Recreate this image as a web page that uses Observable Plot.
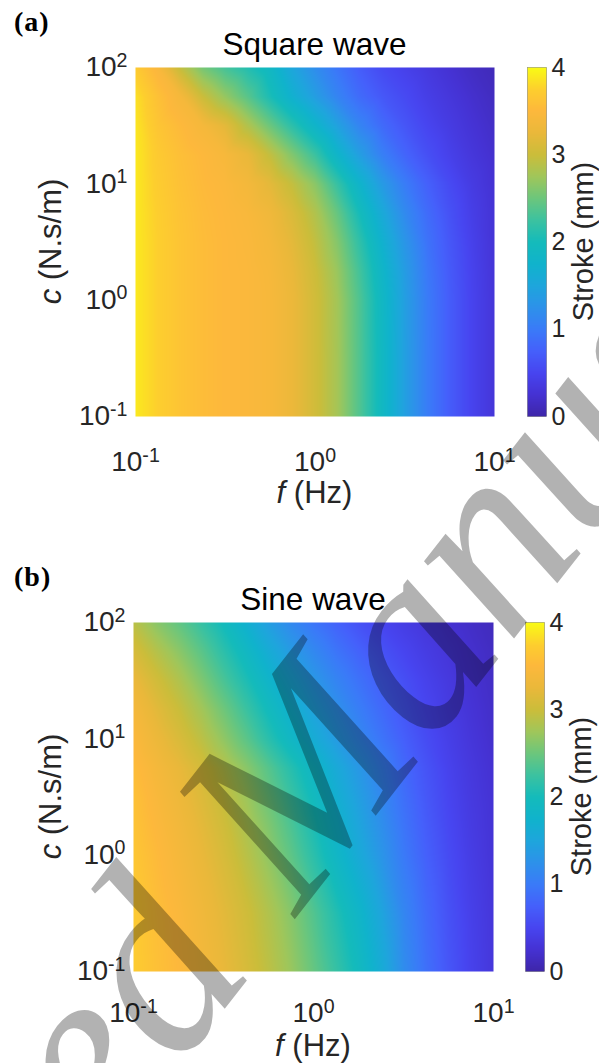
<!DOCTYPE html>
<html><head><meta charset="utf-8">
<script src="https://cdn.jsdelivr.net/npm/d3@7"></script>
<script src="https://cdn.jsdelivr.net/npm/@observablehq/plot@0.6"></script>
<style>
body{margin:0;background:#fff;}
#fig{position:relative;width:599px;height:1063px;overflow:hidden;}
#fig > svg{position:absolute;}
</style></head><body><div id="fig"></div>
<script>
// ---- data ----
const freqs = [0.1, 0.133, 0.178, 0.237, 0.316, 0.422, 0.562, 0.75, 1, 1.33, 1.78, 2.37, 3.16, 4.22, 5.62, 7.5, 10]; // f (Hz)
const dampings = [0.1, 0.316, 1, 1.78, 3.16, 5.62, 10, 17.8, 31.6, 56.2, 100];                                  // c (N.s/m)
// stroke (mm): one row per damping value (bottom to top), one column per frequency
const squareStroke = [
  [3.9, 3.75, 3.63, 3.55, 3.5, 3.47, 3.42, 3.28, 3.05, 2.78, 2.35, 1.9, 1.42, 1.02, 0.72, 0.48, 0.3],
  [3.9, 3.75, 3.63, 3.55, 3.5, 3.47, 3.42, 3.28, 3.05, 2.78, 2.35, 1.9, 1.42, 1.02, 0.72, 0.48, 0.3],
  [3.9, 3.75, 3.63, 3.55, 3.5, 3.47, 3.42, 3.28, 3.05, 2.77, 2.34, 1.88, 1.41, 1.01, 0.72, 0.48, 0.3],
  [3.9, 3.75, 3.63, 3.55, 3.5, 3.47, 3.41, 3.25, 3.02, 2.72, 2.28, 1.82, 1.38, 0.98, 0.7, 0.47, 0.29],
  [3.9, 3.75, 3.63, 3.55, 3.5, 3.46, 3.38, 3.2, 2.95, 2.62, 2.17, 1.72, 1.3, 0.93, 0.67, 0.45, 0.28],
  [3.9, 3.74, 3.62, 3.54, 3.49, 3.44, 3.33, 3.12, 2.85, 2.47, 2.0, 1.57, 1.17, 0.86, 0.62, 0.42, 0.27],
  [3.9, 3.72, 3.6, 3.52, 3.47, 3.38, 3.2, 2.95, 2.65, 2.22, 1.77, 1.36, 1.02, 0.76, 0.55, 0.38, 0.25],
  [3.9, 3.7, 3.58, 3.5, 3.42, 3.25, 2.95, 2.6, 2.25, 1.8, 1.4, 1.05, 0.8, 0.6, 0.45, 0.32, 0.22],
  [3.88, 3.65, 3.52, 3.4, 3.2, 2.85, 2.5, 2.15, 1.8, 1.45, 1.1, 0.85, 0.66, 0.5, 0.38, 0.27, 0.18],
  [3.85, 3.6, 3.4, 3.0, 2.7, 2.4, 2.05, 1.7, 1.4, 1.1, 0.85, 0.68, 0.55, 0.42, 0.32, 0.22, 0.14],
  [3.7, 3.45, 2.95, 2.55, 2.3, 2.1, 1.88, 1.5, 1.2, 0.95, 0.72, 0.55, 0.45, 0.35, 0.25, 0.16, 0.1]
];
const sineStroke = [
  [3.72, 3.6, 3.5, 3.38, 3.25, 3.1, 2.92, 2.72, 2.47, 2.22, 1.95, 1.62, 1.2, 0.9, 0.66, 0.46, 0.32],
  [3.7, 3.58, 3.47, 3.34, 3.2, 3.04, 2.85, 2.63, 2.37, 2.1, 1.82, 1.5, 1.13, 0.85, 0.62, 0.44, 0.31],
  [3.66, 3.53, 3.4, 3.26, 3.1, 2.9, 2.68, 2.43, 2.15, 1.86, 1.58, 1.3, 1.0, 0.76, 0.56, 0.4, 0.28],
  [3.63, 3.49, 3.36, 3.21, 3.04, 2.83, 2.6, 2.34, 2.06, 1.78, 1.5, 1.23, 0.95, 0.72, 0.53, 0.38, 0.27],
  [3.6, 3.45, 3.31, 3.15, 2.97, 2.75, 2.5, 2.24, 1.96, 1.68, 1.42, 1.16, 0.9, 0.68, 0.5, 0.36, 0.26],
  [3.55, 3.4, 3.25, 3.08, 2.88, 2.65, 2.39, 2.12, 1.85, 1.58, 1.33, 1.09, 0.84, 0.64, 0.47, 0.34, 0.24],
  [3.48, 3.3, 3.12, 2.92, 2.68, 2.42, 2.14, 1.87, 1.62, 1.38, 1.16, 0.95, 0.75, 0.57, 0.43, 0.31, 0.21],
  [3.4, 3.2, 3.0, 2.78, 2.52, 2.25, 1.97, 1.71, 1.47, 1.25, 1.04, 0.85, 0.67, 0.51, 0.38, 0.28, 0.19],
  [3.28, 3.06, 2.85, 2.6, 2.33, 2.07, 1.8, 1.55, 1.32, 1.11, 0.92, 0.75, 0.6, 0.46, 0.35, 0.25, 0.17],
  [3.1, 2.88, 2.66, 2.42, 2.16, 1.9, 1.62, 1.37, 1.15, 0.95, 0.78, 0.63, 0.5, 0.39, 0.3, 0.22, 0.15],
  [2.9, 2.65, 2.45, 2.22, 1.98, 1.7, 1.4, 1.15, 0.95, 0.78, 0.62, 0.5, 0.4, 0.31, 0.24, 0.18, 0.12]
];
const xTicks = [0.1, 1, 10];
const yTicks = [0.1, 1, 10, 100];
const cbarTicks = [0, 1, 2, 3, 4];
const strokeDomain = [0, 4];
// parula-like colormap stops (stroke value -> colour)
const parulaStops = [0, 0.25, 0.5, 0.75, 1.0, 1.25, 1.5, 1.75, 2.0, 2.25, 2.5, 2.75, 3.0, 3.25, 3.5, 3.75, 4.0];
const parulaColors = ["#3e26a8", "#4532d3", "#4745f0", "#4560fb", "#3a7bf8", "#2d92ea", "#1ea6dc", "#10b3cc",
  "#14bbbb", "#3cc2a0", "#6cc67c", "#a0c65a", "#cbbd3a", "#eab83a", "#fdb83c", "#fdcf2e", "#f9fb15"];

const FONT = '"Liberation Sans", Arial, Helvetica, sans-serif';
const SERIF = '"Liberation Serif", "Times New Roman", serif';
const fig = document.getElementById("fig");
const expFmt = d => "10^" + Math.round(Math.log10(d));
const colorOpt = {type: "linear", domain: parulaStops, range: parulaColors, clamp: true};

function place(svg, left, top) {
  svg.style.left = left + "px"; svg.style.top = top + "px";
  fig.appendChild(svg);
}
function supTicks(svg) {
  d3.select(svg).selectAll("text").each(function () {
    const m = /^10\^(-?\d+)$/.exec(this.textContent);
    if (!m) return;
    const t = d3.select(this);
    t.text("10");
    t.append("tspan").attr("dy", "-0.5em").attr("font-size", "0.7em").text(m[1]);
  });
}

function heatmap(values, top, height, mt, mb, ml, mr, xPad) {
  const data = dampings.flatMap((c, i) => freqs.map((f, j) => ({f, c, v: values[i][j]})));
  const svg = Plot.plot({
    width: 599, height, marginTop: mt, marginBottom: mb, marginLeft: ml, marginRight: mr,
    style: {fontFamily: FONT, fontSize: "28px", color: "#262626", background: "transparent", overflow: "visible"},
    x: {type: "log", domain: [0.1, 10], ticks: xTicks, tickFormat: expFmt, tickSize: 0, tickPadding: xPad, label: null},
    y: {type: "log", domain: [0.1, 100], ticks: yTicks, tickFormat: expFmt, tickSize: 0, tickPadding: 8, label: null},
    color: colorOpt,
    marks: [Plot.raster(data, {x: "f", y: "c", fill: "v", interpolate: "barycentric", pixelSize: 1})]
  });
  supTicks(svg);
  place(svg, 0, top);
}

function colorbar(left, top, height, mt, mb) {
  const svg = Plot.plot({
    width: 110, height, marginTop: mt, marginBottom: mb, marginLeft: 37, marginRight: 54,
    style: {fontFamily: FONT, fontSize: "25px", color: "#262626", background: "transparent", overflow: "visible"},
    x: {domain: [0, 1], axis: null},
    y: {domain: strokeDomain, ticks: cbarTicks, tickFormat: d => String(d), axis: "right", tickSize: 0, tickPadding: 5, label: null},
    color: colorOpt,
    marks: [
      Plot.raster({x1: 0, x2: 1, y1: 0, y2: 4, fill: (x, y) => y, pixelSize: 1}),
      Plot.frame({stroke: "#262626", strokeWidth: 0.6, strokeOpacity: 0.5})
    ]
  });
  place(svg, left, top);
}

heatmap(squareStroke, 0, 530, 67, 114, 135, 105, 35);
colorbar(490, 0, 530, 67, 114);
heatmap(sineStroke, 555, 508, 67, 92, 133, 106, 31);
colorbar(488, 555, 508, 67, 92);

// ---- overlay: titles, labels, watermark ----
const ov = d3.create("svg").attr("width", 599).attr("height", 1063)
  .style("left", "0px").style("top", "0px").style("pointer-events", "none")
  .attr("font-family", FONT);
function panelText(dy, letter, title, cx, yMid, cbx, xlabY) {
  ov.append("text").attr("x", 14).attr("y", 31 + dy).attr("font-family", SERIF).attr("font-weight", "bold")
    .attr("font-size", 28).attr("letter-spacing", 1).text(letter);
  ov.append("text").attr("x", cx).attr("y", 55 + dy).attr("text-anchor", "middle").attr("font-size", 31.5).attr("fill", "#000").text(title);
  const xl = ov.append("text").attr("x", cx).attr("y", xlabY).attr("text-anchor", "middle").attr("font-size", 31).attr("fill", "#262626");
  xl.append("tspan").attr("font-style", "italic").text("f");
  xl.append("tspan").text(" (Hz)");
  const yl = ov.append("text").attr("transform", `translate(61,${yMid}) rotate(-90)`).attr("text-anchor", "middle").attr("font-size", 31).attr("fill", "#262626");
  yl.append("tspan").attr("font-style", "italic").text("c");
  yl.append("tspan").text(" (N.s/m)");
  ov.append("text").attr("transform", `translate(${cbx},${yMid}) rotate(-90)`).attr("text-anchor", "middle").attr("font-size", 29).attr("fill", "#262626").text("Stroke (mm)");
}
panelText(0, "(a)", "Square wave", 314.5, 241.5, 593, 503);
panelText(555, "(b)", "Sine wave", 313, 796.5, 591, 1056);
ov.append("text").attr("transform", "translate(352,846) rotate(-52)").attr("text-anchor", "middle")
  .attr("font-family", SERIF).attr("font-style", "italic").attr("font-size", 258)
  .attr("fill", "#000").attr("fill-opacity", 0.3).text("Accepted Manuscript");
fig.appendChild(ov.node());
</script></body></html>
